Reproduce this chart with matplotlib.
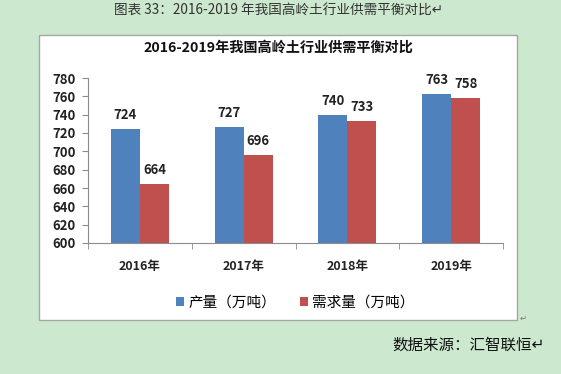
import numpy as np
import matplotlib
matplotlib.use('Agg')
import matplotlib.pyplot as plt
from matplotlib.patches import Rectangle

plt.rcParams['font.family'] = ['Noto Sans CJK SC', 'DejaVu Sans']

years = ['2016年', '2017年', '2018年', '2019年']
output = [724, 727, 740, 763]
demand = [664, 696, 733, 758]
series_names = ['产量（万吨）', '需求量（万吨）']
y_ticks = [600, 620, 640, 660, 680, 700, 720, 740, 760, 780]

bg = '#cce8cf'
blue = '#4f81bd'
red = '#c0504d'

fig = plt.figure(figsize=(5.61, 3.74), dpi=100)
fig.patch.set_facecolor(bg)

# white chart box, behind the axes
box = Rectangle((39 / 561, 1 - 320 / 374), 478 / 561, 285 / 374,
                transform=fig.transFigure, facecolor='white',
                edgecolor='#a6a6a6', linewidth=1.0, zorder=-5)
fig.patches.append(box)

ax = fig.add_axes([88 / 561, 1 - 243 / 374, 415 / 561, 165 / 374])
ax.set_facecolor('none')

x = np.arange(len(years))
w = 0.28
b1 = ax.bar(x - w / 2, output, w, color=blue, label=series_names[0])
b2 = ax.bar(x + w / 2, demand, w, color=red, label=series_names[1])

for bars in (b1, b2):
    for r in bars:
        ax.annotate(str(int(r.get_height())), (r.get_x() + r.get_width() / 2, r.get_height()),
                    xytext=(0, 5), textcoords='offset points', ha='center', va='bottom',
                    fontsize=9.5, fontweight='bold', color='#222222')

ax.set_ylim(600, 780)
ax.set_yticks(y_ticks)
ax.set_xlim(-0.5, len(years) - 0.5)
ax.set_xticks(x)
ax.set_xticklabels(years)
ax.set_xticks(np.arange(-0.5, len(years)), minor=True)
ax.tick_params(axis='x', which='major', length=0, pad=12, labelsize=9)
ax.tick_params(axis='x', which='minor', length=4, color='#8c8c8c', direction='out')
ax.tick_params(axis='y', length=4, color='#8c8c8c', labelsize=9.5, pad=5)
for lab in ax.get_xticklabels() + ax.get_yticklabels():
    lab.set_fontweight('bold')
    lab.set_color('#222222')

for s in ['top', 'right']:
    ax.spines[s].set_visible(False)
for s in ['left', 'bottom']:
    ax.spines[s].set_color('#8c8c8c')
    ax.spines[s].set_linewidth(0.8)

ax.legend(loc='center', bbox_to_anchor=(0.5, -0.36), ncol=2, frameon=False,
          fontsize=10.5, handlelength=0.55, handleheight=0.55, handletextpad=0.3,
          columnspacing=1.6)

fig.text(278 / 561, 1 - 48 / 374, '2016-2019年我国高岭土行业供需平衡对比',
         ha='center', va='center', fontsize=10.2, fontweight='bold', color='#111111')
fig.text(279 / 561, 1 - 11 / 374, '图表 33：2016-2019 年我国高岭土行业供需平衡对比↵',
         ha='center', va='center', fontsize=9.8, color='#333333')
fig.text(545 / 561, 1 - 345 / 374, '数据来源：汇智联恒↵',
         ha='right', va='center', fontsize=11.2, color='#111111')
fig.text(520 / 561, 1 - 318 / 374, '↵', ha='left', va='center', fontsize=6, color='#777777')

fig.savefig('out.png', dpi=100, facecolor=bg)
